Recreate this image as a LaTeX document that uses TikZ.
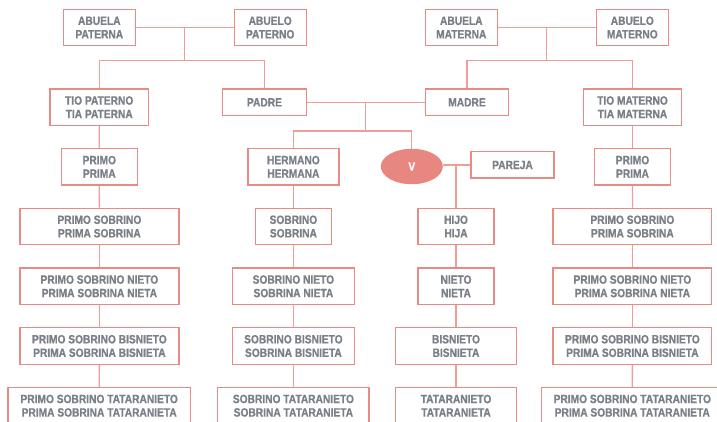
\documentclass[tikz,border=0pt]{standalone}
\usepackage{fontspec}
\usetikzlibrary{shapes.geometric}
\newfontfamily\cf[FakeStretch=0.85, FakeBold=0.8]{Liberation Sans Bold}
\definecolor{bordc}{HTML}{E98A84}
\definecolor{linec}{HTML}{EE9E99}
\definecolor{txtc}{HTML}{7A8088}
\definecolor{vfill}{HTML}{E8877F}
\begin{document}
\begin{tikzpicture}[x=1pt,y=-1pt,
  box/.style={draw=bordc, line width=1.3pt, text=txtc, font=\cf\fontsize{12}{13.5}\selectfont, align=center, inner sep=0pt, minimum height=36.4pt},
  sbox/.style={box, minimum height=26.6pt},
  ln/.style={draw=linec, line width=1.3pt}]
\fill[white] (0,0) rectangle (717,422);
\useasboundingbox (0,0) rectangle (717,422);
\clip (0,0) rectangle (717,422);
% grandparents
\node[box, minimum width=72pt] (abP) at (99.3,27.5) {ABUELA\\PATERNA};
\node[box, minimum width=72pt] (aboP) at (270.2,27.5) {ABUELO\\PATERNO};
\node[box, minimum width=72pt] (abM) at (461.3,27.5) {ABUELA\\MATERNA};
\node[box, minimum width=72pt] (aboM) at (632.3,27.5) {ABUELO\\MATERNO};
% parents generation
\node[box, minimum width=98.3pt] (tioP) at (99.2,107.2) {TIO PATERNO\\TIA PATERNA};
\node[sbox, minimum width=83.6pt] (padre) at (264.5,102.3) {PADRE};
\node[sbox, minimum width=83.4pt] (madre) at (467,102.3) {MADRE};
\node[box, minimum width=98.4pt] (tioM) at (632.5,107.2) {TIO MATERNO\\TIA MATERNA};
% own generation
\node[box, minimum width=76pt] (primoP) at (99.3,166.8) {PRIMO\\PRIMA};
\node[box, minimum width=91pt] (herm) at (293.4,166.8) {HERMANO\\HERMANA};
\node[ellipse, fill=vfill, inner sep=0pt, minimum width=62pt, minimum height=35.4pt, text=white, font=\cf\fontsize{12}{13.5}\selectfont] (V) at (411.8,166.5) {V};
\node[sbox, minimum width=83pt, minimum height=26.3pt] (pareja) at (512.5,165) {PAREJA};
\node[box, minimum width=75.6pt] (primoM) at (632.5,166.8) {PRIMO\\PRIMA};
% row 1
\node[box, minimum width=159pt] (l1) at (99.4,226.5) {PRIMO SOBRINO\\PRIMA SOBRINA};
\node[box, minimum width=76pt] (s1) at (293.4,226.5) {SOBRINO\\SOBRINA};
\node[box, minimum width=76pt] (h1) at (456,226.5) {HIJO\\HIJA};
\node[box, minimum width=158.7pt] (r1) at (632.4,226.5) {PRIMO SOBRINO\\PRIMA SOBRINA};
% row 2
\node[box, minimum width=159pt] (l2) at (99.4,286.3) {PRIMO SOBRINO NIETO\\PRIMA SOBRINA NIETA};
\node[box, minimum width=121.6pt] (s2) at (293.4,286.3) {SOBRINO NIETO\\SOBRINA NIETA};
\node[box, minimum width=76pt] (h2) at (456,286.3) {NIETO\\NIETA};
\node[box, minimum width=158.7pt] (r2) at (632.4,286.3) {PRIMO SOBRINO NIETO\\PRIMA SOBRINA NIETA};
% row 3
\node[box, minimum width=159pt] (l3) at (99.4,346) {PRIMO SOBRINO BISNIETO\\PRIMA SOBRINA BISNIETA};
\node[box, minimum width=121.6pt] (s3) at (293.4,346) {SOBRINO BISNIETO\\SOBRINA BISNIETA};
\node[box, minimum width=121pt] (h3) at (456,346) {BISNIETO\\BISNIETA};
\node[box, minimum width=158.7pt] (r3) at (632.4,346) {PRIMO SOBRINO BISNIETO\\PRIMA SOBRINA BISNIETA};
% row 4
\node[box, minimum width=182.3pt] (l4) at (99.2,405.7) {PRIMO SOBRINO TATARANIETO\\PRIMA SOBRINA TATARANIETA};
\node[box, minimum width=151.3pt] (s4) at (293.4,405.7) {SOBRINO TATARANIETO\\SOBRINA TATARANIETA};
\node[box, minimum width=121pt] (h4) at (456,405.7) {TATARANIETO\\TATARANIETA};
\node[box, minimum width=182pt] (r4) at (632.3,405.7) {PRIMO SOBRINO TATARANIETO\\PRIMA SOBRINA TATARANIETA};
% junction coordinates
\coordinate (jP) at (184.8,27.5);
\coordinate (hP) at (184.8,60.7);
\coordinate (jM) at (546.8,27.5);
\coordinate (hM) at (546.8,60.7);
\coordinate (pm) at (365.3,102.3);
\coordinate (hv) at (365.3,131);
\coordinate (vp) at (456,165);
% connectors
\draw[ln] (abP.east) -- (aboP.west);
\draw[ln] (jP) -- (hP);
\draw[ln] (tioP.north) |- (hP) -| (padre.north);
\draw[ln] (abM.east) -- (aboM.west);
\draw[ln] (jM) -- (hM);
\draw[ln] (madre.north) |- (hM) -| (tioM.north);
\draw[ln] (padre.east) -- (madre.west);
\draw[ln] (pm) -- (hv);
\draw[ln] (herm.north) |- (hv) -| (V.north);
\draw[ln] (V.east |- pareja.west) -- (pareja.west);
\draw[ln] (vp) -- (h1.north);
\draw[ln] (tioP.south) -- (primoP.north);
\draw[ln] (primoP.south) -- (l1.north);
\draw[ln] (l1.south) -- (l2.north);
\draw[ln] (l2.south) -- (l3.north);
\draw[ln] (l3.south) -- (l4.north);
\draw[ln] (herm.south) -- (s1.north);
\draw[ln] (s1.south) -- (s2.north);
\draw[ln] (s2.south) -- (s3.north);
\draw[ln] (s3.south) -- (s4.north);
\draw[ln] (h1.south) -- (h2.north);
\draw[ln] (h2.south) -- (h3.north);
\draw[ln] (h3.south) -- (h4.north);
\draw[ln] (tioM.south) -- (primoM.north);
\draw[ln] (primoM.south) -- (r1.north);
\draw[ln] (r1.south) -- (r2.north);
\draw[ln] (r2.south) -- (r3.north);
\draw[ln] (r3.south) -- (r4.north);
\end{tikzpicture}
\end{document}
